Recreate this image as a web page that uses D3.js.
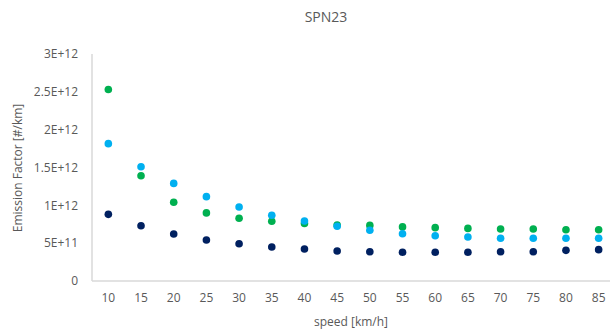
<!DOCTYPE html>
<html>
<head>
<meta charset="utf-8">
<script src="https://cdn.jsdelivr.net/npm/d3@7"></script>
<style>
  body { margin: 0; background: #fff; }
  text { font-family: "Open Sans", sans-serif; fill: #595959; }
</style>
</head>
<body>
<div id="chart"></div>
<script>
const speeds = [10, 15, 20, 25, 30, 35, 40, 45, 50, 55, 60, 65, 70, 75, 80, 85];

// values in units of 1E+12 #/km
const greenSeries = [2.53, 1.39, 1.04, 0.90, 0.83, 0.79, 0.76, 0.74, 0.735, 0.715, 0.705, 0.695, 0.687, 0.687, 0.678, 0.678];
const lightBlueSeries = [1.815, 1.51, 1.29, 1.115, 0.978, 0.868, 0.793, 0.723, 0.670, 0.625, 0.599, 0.581, 0.564, 0.564, 0.564, 0.564];
const navySeries = [0.881, 0.731, 0.621, 0.542, 0.493, 0.449, 0.423, 0.396, 0.387, 0.379, 0.379, 0.379, 0.387, 0.387, 0.405, 0.414];

const yTicks = [0, 0.5, 1, 1.5, 2, 2.5, 3];
const yTickLabels = ["0", "5E+11", "1E+12", "1.5E+12", "2E+12", "2.5E+12", "3E+12"];

const series = [
  { name: "green", values: greenSeries, color: "#00B050" },
  { name: "lightblue", values: lightBlueSeries, color: "#00B0F0" },
  { name: "navy", values: navySeries, color: "#002060" }
];

const width = 610, height = 333;
const svg = d3.select("#chart").append("svg")
  .attr("width", width)
  .attr("height", height);

const x = d3.scaleBand()
  .domain(speeds)
  .range([92, 615]);

const y = d3.scaleLinear()
  .domain([0, 3])
  .range([281, 54]);

// axis lines
svg.append("line")
  .attr("x1", 92).attr("x2", 92)
  .attr("y1", y(3)).attr("y2", y(0))
  .attr("stroke", "#d9d9d9").attr("stroke-width", 1.5);

svg.append("line")
  .attr("x1", 92).attr("x2", 615)
  .attr("y1", y(0)).attr("y2", y(0))
  .attr("stroke", "#d9d9d9").attr("stroke-width", 1.5);

// Y tick labels
svg.selectAll(".ytick")
  .data(yTicks)
  .enter()
  .append("text")
  .attr("class", "ytick")
  .attr("x", 78)
  .attr("y", d => y(d))
  .attr("dy", "0.35em")
  .attr("text-anchor", "end")
  .style("font-size", "12px")
  .text((d, i) => yTickLabels[i]);

// X tick labels
svg.selectAll(".xtick")
  .data(speeds)
  .enter()
  .append("text")
  .attr("class", "xtick")
  .attr("x", d => x(d) + x.bandwidth() / 2)
  .attr("y", 298)
  .attr("dy", "0.35em")
  .attr("text-anchor", "middle")
  .style("font-size", "12px")
  .text(d => d);

// points
series.forEach(s => {
  svg.selectAll(".pt-" + s.name)
    .data(s.values)
    .enter()
    .append("circle")
    .attr("class", "pt-" + s.name)
    .attr("cx", (d, i) => x(speeds[i]) + x.bandwidth() / 2)
    .attr("cy", d => y(d))
    .attr("r", 3.8)
    .attr("fill", s.color);
});

// title
svg.append("text")
  .attr("x", 326)
  .attr("y", 17)
  .attr("dy", "0.35em")
  .attr("text-anchor", "middle")
  .style("font-size", "14px")
  .text("SPN23");

// axis titles
svg.append("text")
  .attr("x", 351)
  .attr("y", 322)
  .attr("dy", "0.35em")
  .attr("text-anchor", "middle")
  .style("font-size", "12px")
  .text("speed [km/h]");

svg.append("text")
  .attr("transform", "translate(18,168) rotate(-90)")
  .attr("dy", "0.35em")
  .attr("text-anchor", "middle")
  .style("font-size", "12px")
  .text("Emission Factor [#/km]");
</script>
</body>
</html>
